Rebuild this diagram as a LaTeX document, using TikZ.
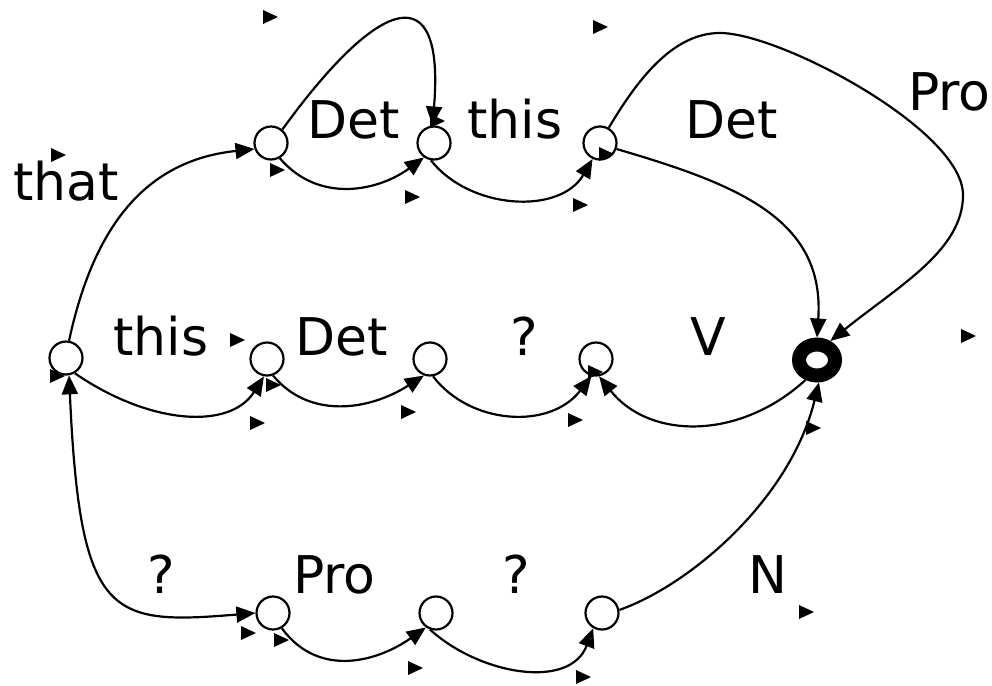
\documentclass[tikz,border=0pt]{standalone}
\usepackage{fontspec}
\setmainfont{DejaVu Sans}
\usepackage{tikz}
\usetikzlibrary{arrows.meta,shapes.geometric}
\tikzset{
    state element/.style={
        draw,line width=2.2pt,circle,
        minimum size=33pt,inner sep=0pt
    },
    final element/.style={
        draw,line width=14pt,ellipse,
        minimum width=36pt,minimum height=31pt,inner sep=0pt
    },
    edge label/.style={
        anchor=base west,inner sep=0pt,
        font=\fontsize{52}{60}\selectfont
    },
    tip/.tip={Triangle[length=19pt,width=16pt]},
    connector/.style={line width=2.2pt,-tip}
}

\begin{document}
\begin{tikzpicture}[x=1pt,y=-1pt]
\useasboundingbox (0,0) rectangle (992,685);
% states
\node[state element] (q0) at (66,358) {};
\foreach \i/\x in {1/271,2/434,3/600} {
    \node[state element] (top\i) at (\x,143) {};
    \node[state element] (bot\i) at (\x+2,613) {};
}
\foreach \i/\x in {1/267,2/430,3/596}
    \node[state element] (mid\i) at (\x,359) {};
\node[final element] (final) at (817,360) {};
% labels
\node[edge label] (l_that) at (13,200) {that};
\node[edge label] (l_det1) at (307,138) {Det};
\node[edge label] (l_this1) at (467,138) {this};
\node[edge label] (l_det2) at (685,138) {Det};
\node[edge label] (l_pro1) at (908,110) {Pro};
\node[edge label] (l_this2) at (113,355) {this};
\node[edge label] (l_det3) at (295,355) {Det};
\node[edge label] (l_q1) at (510,355) {?};
\node[edge label] (l_v) at (690,355) {V};
\node[edge label] (l_q2) at (147,593) {?};
\node[edge label] (l_pro2) at (293,593) {Pro};
\node[edge label] (l_q3) at (502,593) {?};
\node[edge label] (l_n) at (748,593) {N};
% connectors
\draw[connector] (q0.80) .. controls (95,220) and (150,160) .. (top1.200);
\draw[connector] (top1.50) .. controls (380,-5) and (445,-25) .. (top2.95);
\draw[connector] (top1.-60) .. controls (320,205) and (380,190) .. (top2.235);
\draw[connector] (top2.-100) .. controls (470,210) and (560,215) .. (top3.245);
\draw[connector] (top3.-20) .. controls (740,185) and (825,220) .. (final.north);
\draw[connector] (top3.60) .. controls (640,75) and (675,33) .. (720,33)
    .. controls (780,33) and (963,130) .. (963,195)
    .. controls (963,250) and (900,285) .. (final.55);
\draw[connector] (q0.-60) .. controls (150,425) and (230,430) .. (mid1.260);
\draw[connector] (mid1.-70) .. controls (310,420) and (370,410) .. (mid2.250);
\draw[connector] (mid2.-80) .. controls (470,425) and (550,430) .. (mid3.255);
\draw[connector] (final.240) .. controls (740,440) and (650,440) .. (mid3.-80);
\draw[connector,tip-tip] (q0.-80) .. controls (80,620) and (110,625) .. (bot1.west);
\draw[connector] (bot1.-60) .. controls (320,680) and (380,660) .. (bot2.235);
\draw[connector] (bot2.-110) .. controls (480,675) and (570,690) .. (bot3.240);
\draw[connector] (bot3.10) .. controls (690,585) and (790,500) .. (final.-85);
% loose markers
\foreach \x/\y in {270/17,600/27,58/155,277/170,412/197,580/205,437/121,606/154,
    237/340,57/376,273/385,257/423,408/412,575/420,595/372,968/336,813/428,
    806/612,248/633,281/640,415/668,583/677}
    \fill (\x-7,\y-7) -- (\x+8,\y) -- (\x-7,\y+7) -- cycle;
\end{tikzpicture}
\end{document}
